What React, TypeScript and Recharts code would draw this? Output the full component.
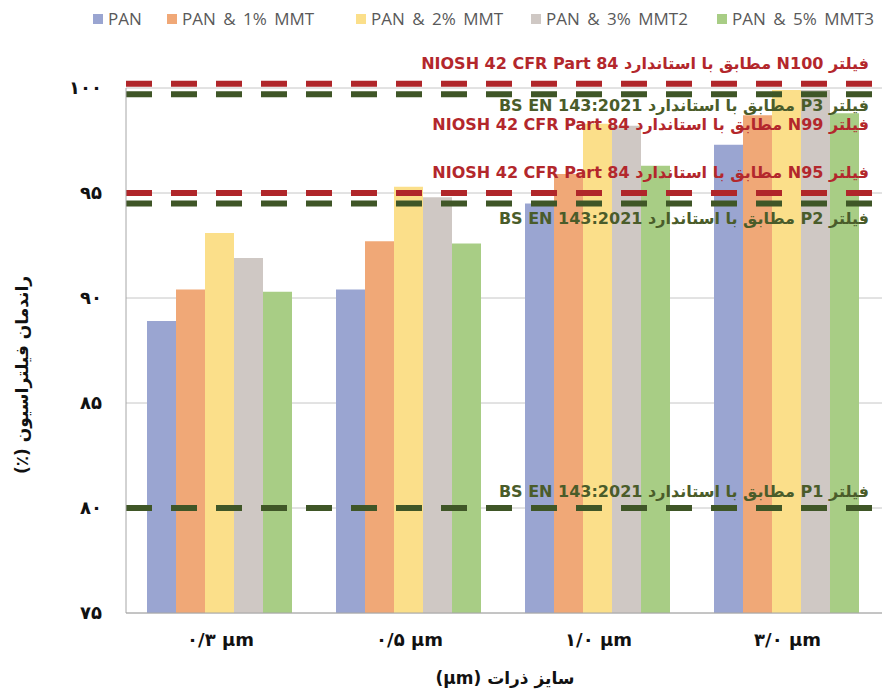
import React from 'react';
import { BarChart, Bar, XAxis, YAxis, CartesianGrid, ReferenceLine, Legend } from 'recharts';

// particle size categories and filtration efficiency (%) per membrane
const categories = ['۰/۳ µm', '۰/۵ µm', '۱/۰ µm', '۳/۰ µm'];
const pan = [88.9, 90.4, 94.5, 97.3];
const pan1 = [90.4, 92.7, 95.9, 98.7];
const pan2 = [93.1, 95.3, 98.3, 99.9];
const pan3 = [91.9, 94.8, 98.2, 99.9];
const pan5 = [90.3, 92.6, 96.3, 98.8];

const seriesKeys = ['pan', 'pan1', 'pan2', 'pan3', 'pan5'];
const seriesNames = ['PAN', 'PAN & 1% MMT', 'PAN & 2% MMT', 'PAN & 3% MMT2', 'PAN & 5% MMT3'];
const seriesColors = ['#9aa5d1', '#f0a877', '#fbdf8a', '#cfc8c4', '#a8cd85'];

const yTicks = [75, 80, 85, 90, 95, 100];
const yTickLabels = ['۷۵', '۸۰', '۸۵', '۹۰', '۹۵', '۱۰۰'];

// standard limits drawn as dashed lines
const limitValues = [100.2, 99.7, 99, 95, 94.5, 80];
const limitLabels = [
  'فیلتر N100 مطابق با استاندارد NIOSH 42 CFR Part 84',
  'فیلتر P3 مطابق با استاندارد BS EN 143:2021',
  'فیلتر N99 مطابق با استاندارد NIOSH 42 CFR Part 84',
  'فیلتر N95 مطابق با استاندارد NIOSH 42 CFR Part 84',
  'فیلتر P2 مطابق با استاندارد BS EN 143:2021',
  'فیلتر P1 مطابق با استاندارد BS EN 143:2021',
];
const limitKinds = ['niosh', 'bs', 'niosh', 'niosh', 'bs', 'bs'];
const limitHasLine = [true, true, false, true, true, true];

const RED = '#b0262a';
const GREEN = '#3f5627';
const RED_TEXT = '#b3272c';
const GREEN_TEXT = '#4a5c2a';
const labelDy = [-15, 17, 21, -15, 20, -11];
const FA = '"DejaVu Sans", sans-serif';

const data = categories.map((name, i) => ({
  name,
  pan: pan[i],
  pan1: pan1[i],
  pan2: pan2[i],
  pan3: pan3[i],
  pan5: pan5[i],
}));

const legendLeft = [93, 167, 356, 531, 717];

function LegendBox() {
  return (
    <div style={{ position: 'relative', height: 30, width: 895 }}>
      {seriesNames.map((n, i) => (
        <div
          key={n}
          style={{
            position: 'absolute',
            left: legendLeft[i],
            top: 7,
            display: 'flex',
            alignItems: 'center',
            fontFamily: '"Open Sans", sans-serif',
            fontSize: 17,
            wordSpacing: 3,
            color: '#595959',
            whiteSpace: 'nowrap',
          }}
        >
          <span style={{ width: 10, height: 10, background: seriesColors[i], marginRight: 5 }} />
          {n}
        </div>
      ))}
    </div>
  );
}

function limitLabel(i: number) {
  return (props: any) => {
    const vb = props.viewBox || {};
    const x = vb.x + vb.width - 13;
    const y = vb.y + labelDy[i];
    return (
      <text
        x={x}
        y={y}
        direction="rtl"
        textAnchor="start"
        fontFamily={FA}
        fontWeight="bold"
        fontSize={16}
        fill={limitKinds[i] === 'niosh' ? RED_TEXT : GREEN_TEXT}
      >
        {limitLabels[i]}
      </text>
    );
  };
}

export default function App() {
  return (
    <div style={{ position: 'absolute', left: 0, top: 0 }}>
      <BarChart
        width={895}
        height={689}
        data={data}
        margin={{ top: 58, right: 13, bottom: 0, left: 0 }}
        barCategoryGap={21}
        barGap={0}
      >
        <Legend verticalAlign="top" content={() => <LegendBox />} wrapperStyle={{ top: 0, left: 0 }} />
        <CartesianGrid vertical={false} stroke="#c6c6c6" />
        <XAxis
          dataKey="name"
          height={76}
          axisLine={{ stroke: '#a6a6a6' }}
          tickLine={false}
          tickSize={0}
          tickMargin={20}
          tick={{ fontFamily: FA, fontWeight: 'bold', fontSize: 18, fill: '#111' }}
          label={() => (
            <text x={505} y={684} textAnchor="middle" direction="rtl" fontFamily={FA} fontWeight="bold" fontSize={17} fill="#111">
              سایز ذرات (µm)
            </text>
          )}
        />
        <YAxis
          width={126}
          domain={[75, 100]}
          ticks={yTicks}
          interval={0}
          axisLine={{ stroke: '#a6a6a6' }}
          tickLine={false}
          tickSize={0}
          tickMargin={24}
          tickFormatter={(v: number) => yTickLabels[yTicks.indexOf(v)]}
          tick={{ fontFamily: FA, fontWeight: 'bold', fontSize: 18, fill: '#111' }}
          label={() => (
            <text
              x={28}
              y={375}
              transform="rotate(-90 28 375)"
              textAnchor="middle"
              direction="rtl"
              fontFamily={FA}
              fontWeight="bold"
              fontSize={17}
              fill="#111"
            >
              راندمان فیلتراسیون (٪)
            </text>
          )}
        />
        {seriesKeys.map((k, i) => (
          <Bar key={k} dataKey={k} name={seriesNames[i]} fill={seriesColors[i]} isAnimationActive={false} />
        ))}
        {limitValues.map((v, i) => (
          <ReferenceLine
            key={i}
            y={v}
            ifOverflow="visible"
            stroke={limitHasLine[i] ? (limitKinds[i] === 'niosh' ? RED : GREEN) : 'none'}
            strokeWidth={6}
            strokeDasharray="26 19"
            label={limitLabel(i)}
          />
        ))}
      </BarChart>
    </div>
  );
}
